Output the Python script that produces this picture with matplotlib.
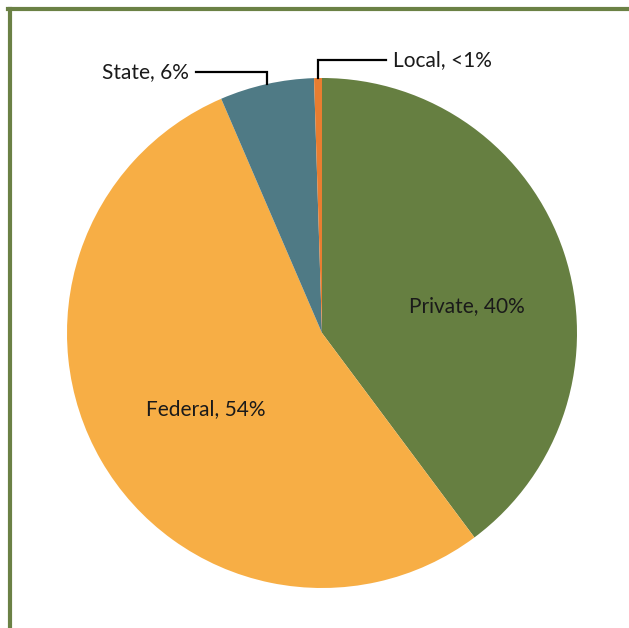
import matplotlib.pyplot as plt
import numpy as np

# funding share by source
sources = ["Private", "Federal", "State", "Local"]
shares = [40, 54, 6, 0.5]
labels = ["Private, 40%", "Federal, 54%", "State, 6%", "Local, <1%"]
colors = ["#667f41", "#f7ae45", "#4f7a85", "#e97d30"]

plt.rcParams['font.family'] = ['Lato', 'DejaVu Sans']

W, H = 629, 628
fig = plt.figure(figsize=(W / 100, H / 100), dpi=100)
fig.patch.set_facecolor("white")
ax = fig.add_axes([0, 0, 1, 1])

cx, cy, r = 322, H - 333, 255
wedges, _ = ax.pie(shares, colors=colors, startangle=90, counterclock=False,
                   center=(cx, cy), radius=r,
                   wedgeprops=dict(linewidth=0))
ax.set_xlim(0, W)
ax.set_ylim(0, H)
ax.set_aspect("equal")
ax.axis("off")

txt = dict(fontsize=15, color="#1a1a1a", va="center")

# labels inside the two big slices
ax.text(467, H - 306, labels[0], ha="center", **txt)
ax.text(206, H - 409, labels[1], ha="center", **txt)

# leader lines for the two small slices
def leader(w, y_lab, x_end):
    a = np.deg2rad((w.theta1 + w.theta2) / 2)
    x0, y0 = cx + r * np.cos(a), cy + r * np.sin(a)
    ax.plot([x0, x0, x_end], [y0, y_lab, y_lab], color="black", lw=1.6,
            solid_joinstyle="miter")
    return x0

leader(wedges[2], H - 72, 196)
ax.text(189, H - 72, labels[2], ha="right", **txt)
leader(wedges[3], H - 60, 386)
ax.text(393, H - 60, labels[3], ha="left", **txt)

# green frame along top and left
border = "#6b8145"
fig.add_artist(plt.Line2D([8 / W, 1], [1 - 9 / H, 1 - 9 / H],
                          transform=fig.transFigure, color=border, lw=3))
fig.add_artist(plt.Line2D([10 / W, 10 / W], [0, 1 - 9 / H],
                          transform=fig.transFigure, color=border, lw=3))

fig.savefig("out.png", dpi=100)
